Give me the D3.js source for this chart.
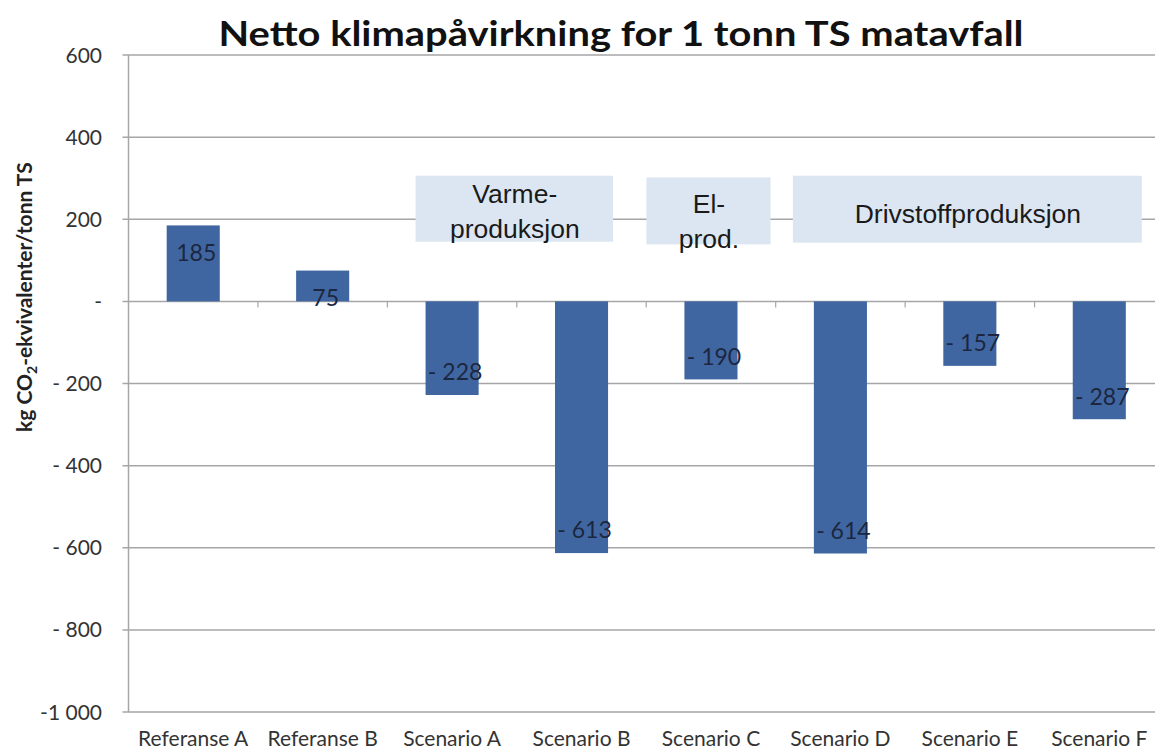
<!DOCTYPE html>
<html>
<head>
<meta charset="utf-8">
<script src="https://cdn.jsdelivr.net/npm/d3@7"></script>
<style>
  body { margin: 0; background: #fff; }
  svg { display: block; }
</style>
</head>
<body>
<div id="chart"></div>
<script>
// data
var categories = ["Referanse A", "Referanse B", "Scenario A", "Scenario B",
                  "Scenario C", "Scenario D", "Scenario E", "Scenario F"];
var values = [185, 75, -228, -613, -190, -614, -157, -287];
var yTicks = [600, 400, 200, 0, -200, -400, -600, -800, -1000];
var yTickLabels = ["600", "400", "200", "-", "- 200", "- 400", "- 600", "- 800", "-1 000"];
// group boxes: first/last category and the text in them
var groupLines = [["Varme-", "produksjon"], ["El-", "prod."], ["Drivstoffproduksjon"]];
var groupFrom = ["Scenario A", "Scenario C", "Scenario D"];
var groupTo = ["Scenario B", "Scenario C", "Scenario F"];

var w = 1155, h = 753;
var margin = {left: 128.5, right: -9, top: 55, bottom: 41};

var svg = d3.select("#chart").append("svg")
    .attr("width", w)
    .attr("height", h);

var x = d3.scaleBand()
    .domain(categories)
    .range([margin.left, w - margin.right])
    .paddingInner(0.59)
    .paddingOuter(0.295);

var y = d3.scaleLinear()
    .domain([-1000, 600])
    .range([h - margin.bottom, margin.top]);

function fmt(v) {
  if (v < 0) return "- " + Math.abs(v);
  return String(v);
}

// gridlines
svg.append("g")
  .selectAll("line")
  .data(yTicks)
  .enter().append("line")
    .attr("x1", margin.left - 6)
    .attr("x2", w)
    .attr("y1", function(d) { return y(d); })
    .attr("y2", function(d) { return y(d); })
    .attr("stroke", "#a6a6a6")
    .attr("stroke-width", 1.5);

// y axis line
svg.append("line")
    .attr("x1", margin.left).attr("x2", margin.left)
    .attr("y1", y(600)).attr("y2", y(-1000))
    .attr("stroke", "#a6a6a6")
    .attr("stroke-width", 1.5);

// y tick labels
svg.append("g")
  .selectAll("text")
  .data(yTicks)
  .enter().append("text")
    .attr("x", 102)
    .attr("y", function(d) { return y(d); })
    .attr("dy", "0.36em")
    .attr("text-anchor", "end")
    .attr("font-family", "Lato, sans-serif")
    .attr("font-size", "21px")
    .attr("fill", "#333")
    .text(function(d, i) { return yTickLabels[i]; });

// small ticks between categories on the zero line
svg.append("g")
  .selectAll("line")
  .data(categories.slice(1))
  .enter().append("line")
    .attr("x1", function(d) { return x(d) - x.step() * x.paddingInner() / 2; })
    .attr("x2", function(d) { return x(d) - x.step() * x.paddingInner() / 2; })
    .attr("y1", y(0))
    .attr("y2", y(0) + 6)
    .attr("stroke", "#a6a6a6")
    .attr("stroke-width", 1.2);

// group boxes behind bars
var padL = [10, 38, 21], padR = [5, 33, 16];
var groups = svg.append("g")
  .selectAll("g")
  .data(groupLines)
  .enter().append("g");

groups.append("rect")
    .attr("x", function(d, i) { return x(groupFrom[i]) - padL[i]; })
    .attr("y", function(d, i) { return y(i == 1 ? 302 : 306); })
    .attr("width", function(d, i) {
      return x(groupTo[i]) + x.bandwidth() + padR[i] - (x(groupFrom[i]) - padL[i]);
    })
    .attr("height", function(d, i) { return i == 0 ? 66 : 67; })
    .attr("fill", "#dce6f2");

groups.each(function(d, i) {
  var g = d3.select(this);
  var cx = (x(groupFrom[i]) + x(groupTo[i]) + x.bandwidth()) / 2 - 2;
  var top = i == 0 ? 193 : (i == 1 ? 203 : 213);
  d.forEach(function(line, j) {
    g.append("text")
      .attr("x", cx)
      .attr("y", top + j * 35)
      .attr("dy", "0.36em")
      .attr("text-anchor", "middle")
      .attr("font-family", "'Liberation Sans', Arial, sans-serif")
      .attr("font-size", "26.5px")
      .attr("fill", "#1a1a1a")
      .text(line);
  });
});

// bars
svg.append("g")
  .selectAll("rect")
  .data(values)
  .enter().append("rect")
    .attr("x", function(d, i) { return x(categories[i]); })
    .attr("y", function(d) { return y(Math.max(0, d)); })
    .attr("width", x.bandwidth())
    .attr("height", function(d) { return Math.abs(y(d) - y(0)); })
    .attr("fill", "#4066a1");

// value labels near the inside end of each bar
svg.append("g")
  .selectAll("text")
  .data(values)
  .enter().append("text")
    .attr("x", function(d, i) { return x(categories[i]) + x.bandwidth() / 2 + 3; })
    .attr("y", function(d) { return d > 0 ? y(d) + 27 : y(d) - 23; })
    .attr("dy", "0.36em")
    .attr("text-anchor", "middle")
    .attr("font-family", "Lato, sans-serif")
    .attr("font-size", "23px")
    .attr("fill", "#1c2640")
    .text(fmt);

// category labels
svg.append("g")
  .selectAll("text")
  .data(categories)
  .enter().append("text")
    .attr("x", function(d) { return x(d) + x.bandwidth() / 2; })
    .attr("y", 738)
    .attr("dy", "0.36em")
    .attr("text-anchor", "middle")
    .attr("font-family", "Lato, sans-serif")
    .attr("font-size", "21px")
    .attr("fill", "#333")
    .text(function(d) { return d; });

// title
svg.append("text")
    .attr("x", 621)
    .attr("y", 33)
    .attr("dy", "0.36em")
    .attr("text-anchor", "middle")
    .attr("font-family", "Lato, sans-serif")
    .attr("font-weight", "bold")
    .attr("font-size", "35px")
    .attr("textLength", 805)
    .attr("lengthAdjust", "spacingAndGlyphs")
    .attr("fill", "#111")
    .text("Netto klimapåvirkning for 1 tonn TS matavfall");

// y axis title with subscript 2
var yt = svg.append("text")
    .attr("transform", "translate(24,297) rotate(-90)")
    .attr("text-anchor", "middle")
    .attr("dy", "0.36em")
    .attr("font-family", "Lato, sans-serif")
    .attr("font-weight", "bold")
    .attr("font-size", "21px")
    .attr("fill", "#222");
yt.append("tspan").text("kg CO");
yt.append("tspan").attr("font-size", "14px").attr("dy", "5").text("2");
yt.append("tspan").attr("dy", "-5").text("-ekvivalenter/tonn TS");
</script>
</body>
</html>
